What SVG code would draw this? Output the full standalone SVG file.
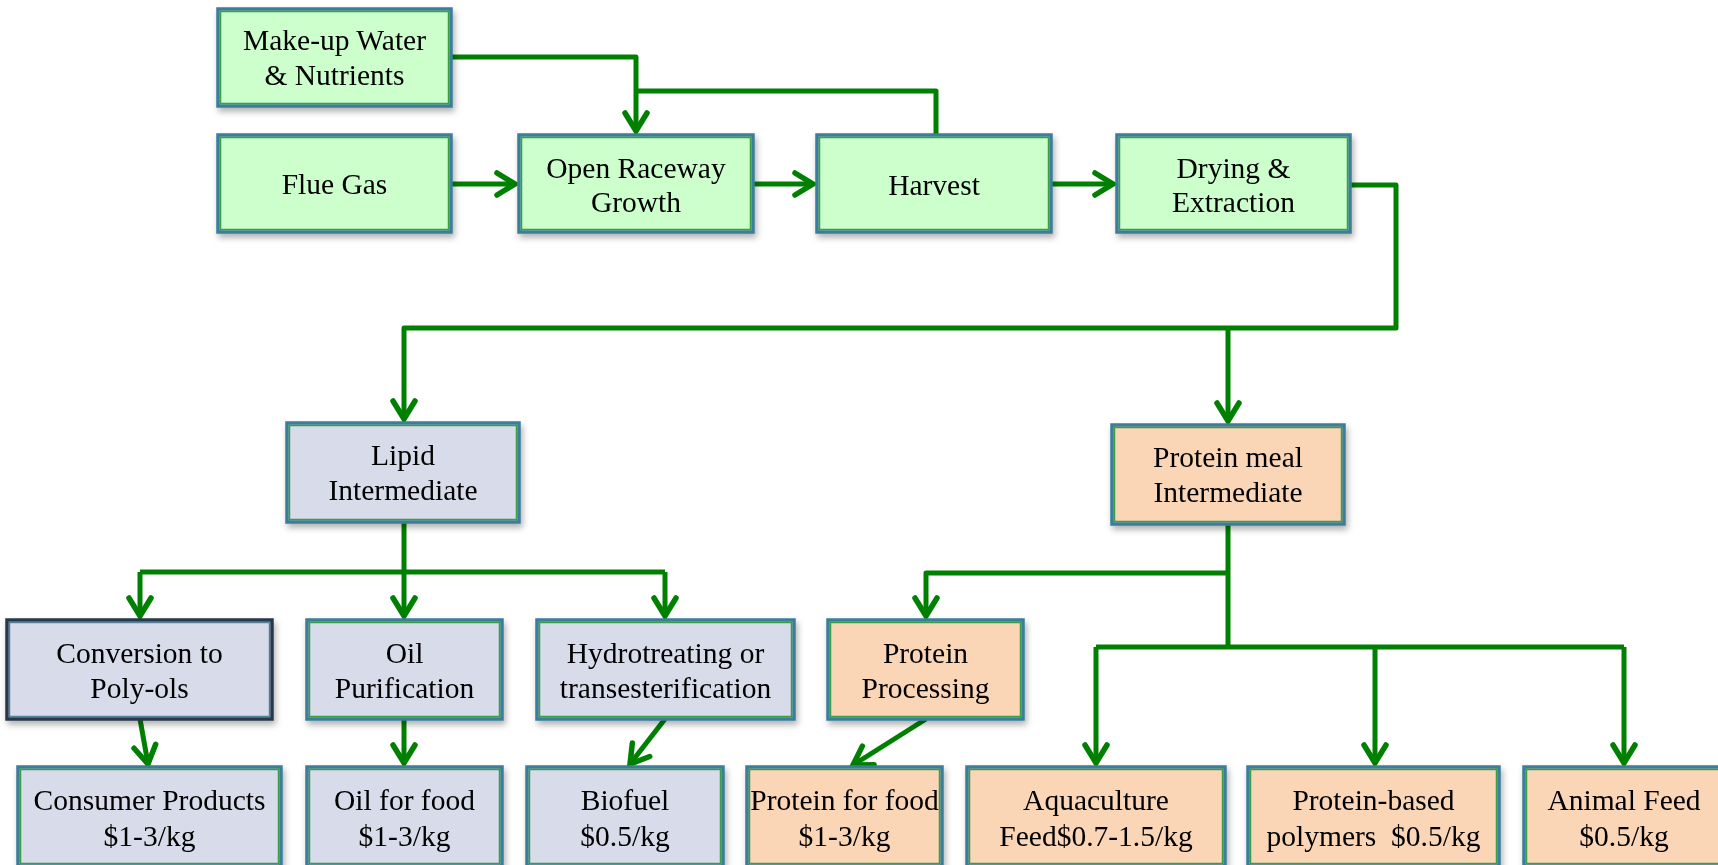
<svg xmlns="http://www.w3.org/2000/svg" width="1718" height="865" viewBox="0 0 1718 865">
<style>
.t{font-family:"Liberation Serif","Times New Roman",serif;font-size:29.5px;fill:#000;text-anchor:middle}
.g{fill:#ccffcc}
.l{fill:#d8dcea}
.p{fill:#fbd6b6}
.ob{fill:none;stroke:#3b7d9b;stroke-width:3.5}
.ib{fill:none;stroke:#3a9e45;stroke-width:1.5}
.obd{fill:none;stroke:#27384a;stroke-width:3.5}
.ibd{fill:none;stroke:#55809c;stroke-width:1.5}
.c{fill:none;stroke:#008000;stroke-width:5;stroke-linejoin:round}
.a{marker-end:url(#ah)}
</style>
<defs>
<filter id="sh" x="-10%" y="-10%" width="130%" height="140%">
<feDropShadow dx="2" dy="4" stdDeviation="3" flood-color="#000" flood-opacity="0.3"/>
</filter>
<marker id="ah" markerUnits="userSpaceOnUse" markerWidth="40" markerHeight="40" refX="0" refY="0" orient="auto" overflow="visible">
<path d="M-18,-11 L0,0 L-18,11" fill="none" stroke="#008000" stroke-width="5.5" stroke-linecap="round" stroke-linejoin="miter"/>
</marker>
</defs>
<rect width="1718" height="865" fill="#fff"/>

<g id="connectors">
<polyline class="c a" points="451,57 636,57 636,131"/>
<polyline class="c" points="936,135 936,91 636,91"/>
<line class="c a" x1="451" y1="184" x2="515" y2="184"/>
<line class="c a" x1="753" y1="184" x2="813" y2="184"/>
<line class="c a" x1="1051" y1="184" x2="1113" y2="184"/>
<polyline class="c a" points="1350,185 1396,185 1396,328 404,328 404,419"/>
<line class="c a" x1="1228" y1="328" x2="1228" y2="421"/>
<line class="c" x1="404" y1="522" x2="404" y2="572"/>
<polyline class="c a" points="140,572 140,616"/>
<polyline class="c" points="140,572 665,572"/>
<line class="c a" x1="404" y1="572" x2="404" y2="616"/>
<line class="c a" x1="665" y1="572" x2="665" y2="616"/>
<line class="c a" x1="140" y1="719" x2="148" y2="764"/>
<line class="c a" x1="404" y1="719" x2="404" y2="763"/>
<line class="c a" x1="665" y1="719" x2="630" y2="764"/>
<line class="c" x1="1228" y1="524" x2="1228" y2="647"/>
<polyline class="c a" points="1228,573 926,573 926,616"/>
<polyline class="c" points="1096,647 1624,647"/>
<line class="c a" x1="1096" y1="647" x2="1096" y2="763"/>
<line class="c a" x1="1375" y1="647" x2="1375" y2="763"/>
<line class="c a" x1="1624" y1="647" x2="1624" y2="763"/>
<line class="c a" x1="926" y1="719" x2="853" y2="765"/>
</g>

<g id="makeup" filter="url(#sh)">
<rect class="g" x="218" y="9" width="233" height="97"/>
<rect class="ob" x="218" y="9" width="233" height="97"/>
<rect class="ib" x="220.5" y="11.5" width="228" height="92"/>
<text class="t" x="334.5" y="50">Make-up Water</text>
<text class="t" x="334.5" y="85">&amp; Nutrients</text>
</g>
<g id="flue" filter="url(#sh)">
<rect class="g" x="218" y="135" width="233" height="97"/>
<rect class="ob" x="218" y="135" width="233" height="97"/>
<rect class="ib" x="220.5" y="137.5" width="228" height="92"/>
<text class="t" x="334.5" y="194">Flue Gas</text>
</g>
<g id="raceway" filter="url(#sh)">
<rect class="g" x="519" y="135" width="234" height="97"/>
<rect class="ob" x="519" y="135" width="234" height="97"/>
<rect class="ib" x="521.5" y="137.5" width="229" height="92"/>
<text class="t" x="636" y="178">Open Raceway</text>
<text class="t" x="636" y="212">Growth</text>
</g>
<g id="harvest" filter="url(#sh)">
<rect class="g" x="817" y="135" width="234" height="97"/>
<rect class="ob" x="817" y="135" width="234" height="97"/>
<rect class="ib" x="819.5" y="137.5" width="229" height="92"/>
<text class="t" x="934" y="195">Harvest</text>
</g>
<g id="drying" filter="url(#sh)">
<rect class="g" x="1117" y="135" width="233" height="97"/>
<rect class="ob" x="1117" y="135" width="233" height="97"/>
<rect class="ib" x="1119.5" y="137.5" width="228" height="92"/>
<text class="t" x="1233.5" y="178">Drying &amp;</text>
<text class="t" x="1233.5" y="212">Extraction</text>
</g>
<g id="lipid" filter="url(#sh)">
<rect class="l" x="287" y="423" width="232" height="99"/>
<rect class="ob" x="287" y="423" width="232" height="99"/>
<rect class="ib" x="289.5" y="425.5" width="227" height="94"/>
<text class="t" x="403" y="465">Lipid</text>
<text class="t" x="403" y="500">Intermediate</text>
</g>
<g id="proteinmeal" filter="url(#sh)">
<rect class="p" x="1112" y="425" width="232" height="99"/>
<rect class="ob" x="1112" y="425" width="232" height="99"/>
<rect class="ib" x="1114.5" y="427.5" width="227" height="94"/>
<text class="t" x="1228" y="467">Protein meal</text>
<text class="t" x="1228" y="502">Intermediate</text>
</g>
<g id="conversion" filter="url(#sh)">
<rect class="l" x="7" y="620" width="265" height="99"/>
<rect class="obd" x="7" y="620" width="265" height="99"/>
<rect class="ibd" x="9.5" y="622.5" width="260" height="94"/>
<text class="t" x="139.5" y="663">Conversion to</text>
<text class="t" x="139.5" y="698">Poly-ols</text>
</g>
<g id="oilpurification" filter="url(#sh)">
<rect class="l" x="307" y="620" width="195" height="99"/>
<rect class="ob" x="307" y="620" width="195" height="99"/>
<rect class="ib" x="309.5" y="622.5" width="190" height="94"/>
<text class="t" x="404.5" y="663">Oil</text>
<text class="t" x="404.5" y="698">Purification</text>
</g>
<g id="hydrotreating" filter="url(#sh)">
<rect class="l" x="537" y="620" width="257" height="99"/>
<rect class="ob" x="537" y="620" width="257" height="99"/>
<rect class="ib" x="539.5" y="622.5" width="252" height="94"/>
<text class="t" x="665.5" y="663">Hydrotreating or</text>
<text class="t" x="665.5" y="698">transesterification</text>
</g>
<g id="proteinprocessing" filter="url(#sh)">
<rect class="p" x="828" y="620" width="195" height="99"/>
<rect class="ob" x="828" y="620" width="195" height="99"/>
<rect class="ib" x="830.5" y="622.5" width="190" height="94"/>
<text class="t" x="925.5" y="663">Protein</text>
<text class="t" x="925.5" y="698">Processing</text>
</g>
<g id="consumer" filter="url(#sh)">
<rect class="l" x="18" y="767" width="263" height="99"/>
<rect class="ob" x="18" y="767" width="263" height="99"/>
<rect class="ib" x="20.5" y="769.5" width="258" height="94"/>
<text class="t" x="149.5" y="810">Consumer Products</text>
<text class="t" x="149.5" y="846">$1-3/kg</text>
</g>
<g id="oilfood" filter="url(#sh)">
<rect class="l" x="307" y="767" width="195" height="99"/>
<rect class="ob" x="307" y="767" width="195" height="99"/>
<rect class="ib" x="309.5" y="769.5" width="190" height="94"/>
<text class="t" x="404.5" y="810">Oil for food</text>
<text class="t" x="404.5" y="846">$1-3/kg</text>
</g>
<g id="biofuel" filter="url(#sh)">
<rect class="l" x="527" y="767" width="196" height="99"/>
<rect class="ob" x="527" y="767" width="196" height="99"/>
<rect class="ib" x="529.5" y="769.5" width="191" height="94"/>
<text class="t" x="625" y="810">Biofuel</text>
<text class="t" x="625" y="846">$0.5/kg</text>
</g>
<g id="proteinfood" filter="url(#sh)">
<rect class="p" x="747" y="767" width="195" height="99"/>
<rect class="ob" x="747" y="767" width="195" height="99"/>
<rect class="ib" x="749.5" y="769.5" width="190" height="94"/>
<text class="t" x="844.5" y="810">Protein for food</text>
<text class="t" x="844.5" y="846">$1-3/kg</text>
</g>
<g id="aquaculture" filter="url(#sh)">
<rect class="p" x="967" y="767" width="258" height="99"/>
<rect class="ob" x="967" y="767" width="258" height="99"/>
<rect class="ib" x="969.5" y="769.5" width="253" height="94"/>
<text class="t" x="1096" y="810">Aquaculture</text>
<text class="t" x="1096" y="846">Feed$0.7-1.5/kg</text>
</g>
<g id="polymers" filter="url(#sh)">
<rect class="p" x="1248" y="767" width="251" height="99"/>
<rect class="ob" x="1248" y="767" width="251" height="99"/>
<rect class="ib" x="1250.5" y="769.5" width="246" height="94"/>
<text class="t" x="1373.5" y="810">Protein-based</text>
<text class="t" x="1373.5" y="846" xml:space="preserve">polymers  $0.5/kg</text>
</g>
<g id="animalfeed" filter="url(#sh)">
<rect class="p" x="1524" y="767" width="205" height="99"/>
<rect class="ob" x="1524" y="767" width="205" height="99"/>
<rect class="ib" x="1526.5" y="769.5" width="200" height="94"/>
<text class="t" x="1624" y="810">Animal Feed</text>
<text class="t" x="1624" y="846">$0.5/kg</text>
</g>
</svg>
